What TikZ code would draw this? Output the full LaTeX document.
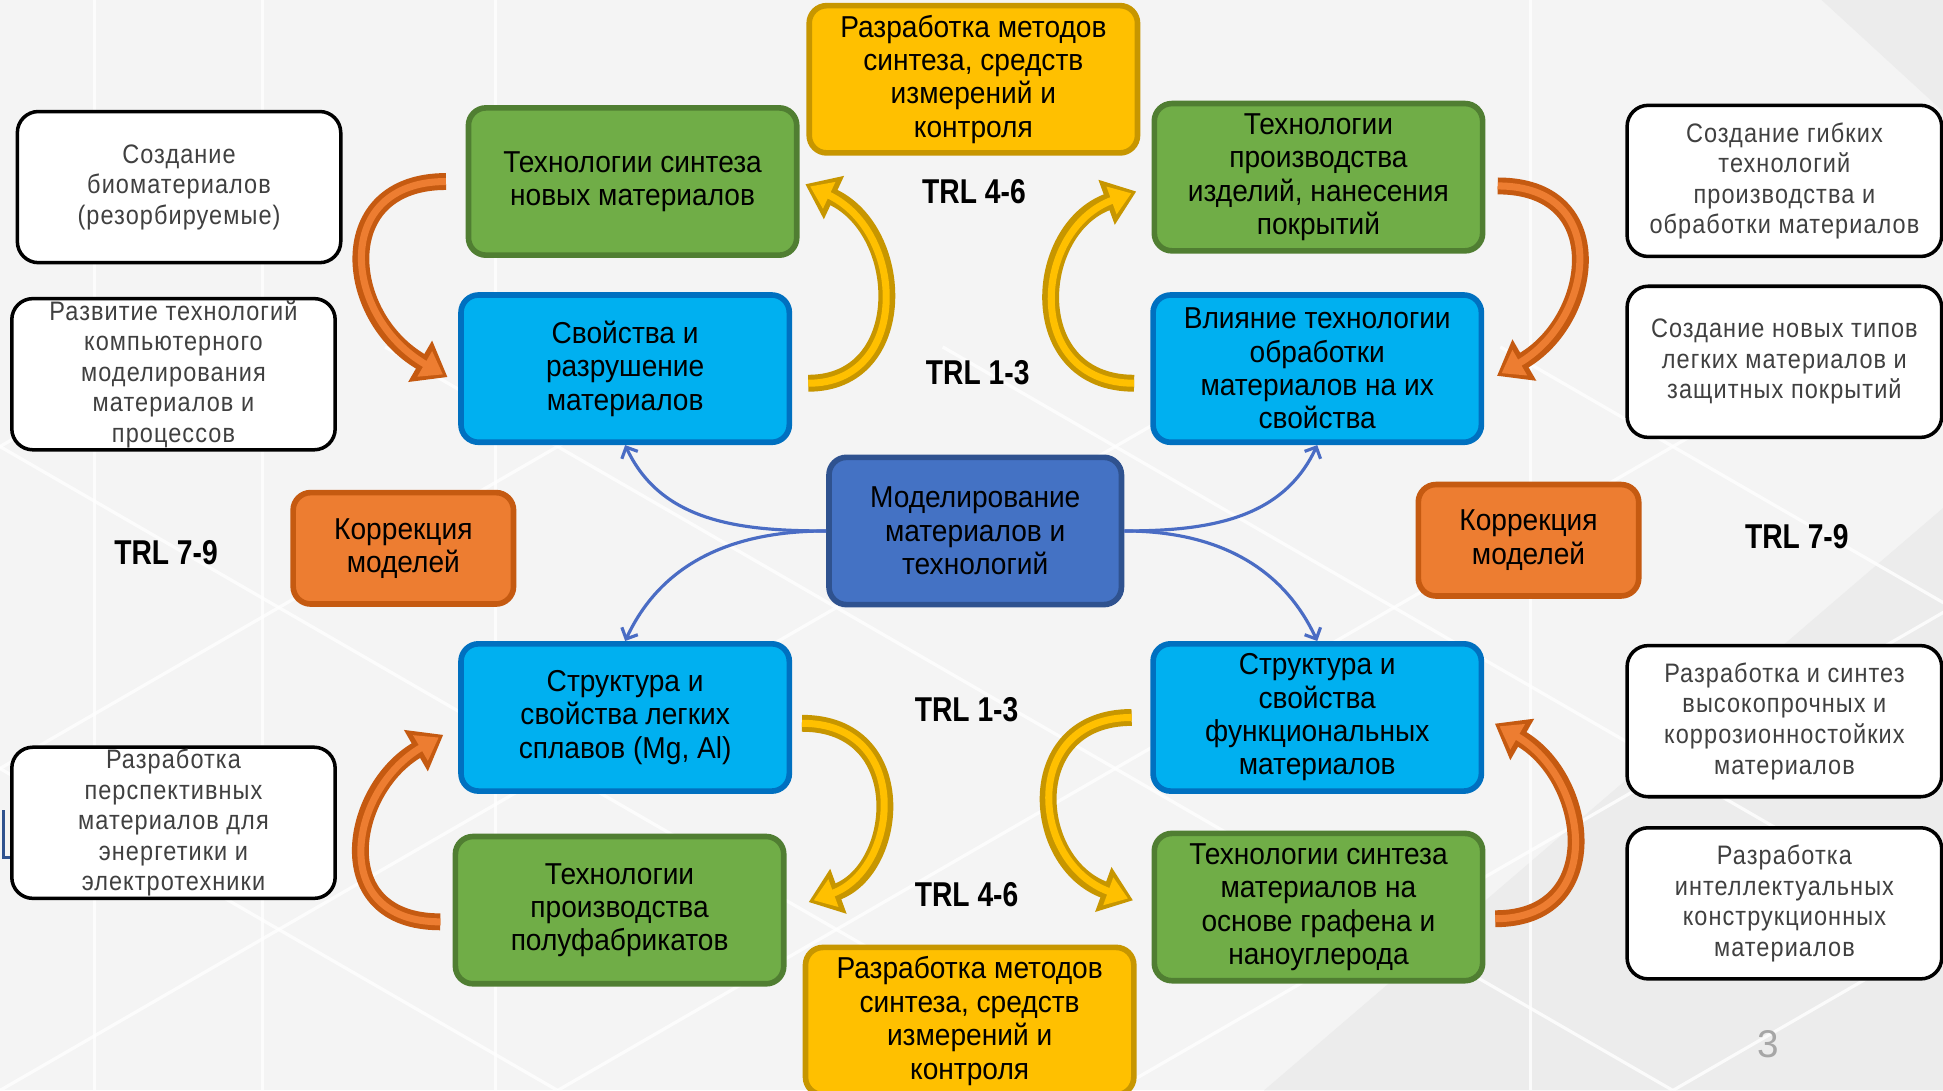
\documentclass[tikz,border=0pt]{standalone}
\usepackage{fontspec}
\setmainfont{Liberation Sans}
\newfontfamily\boxfont{Liberation Sans}[FakeStretch=0.93]
\newfontfamily\notefont{Liberation Sans}[FakeStretch=0.88,LetterSpace=4]
\newfontfamily\trlfont{Liberation Sans}[FakeStretch=0.82]
\usetikzlibrary{arrows.meta}
\definecolor{grn}{HTML}{70AD47}
\definecolor{grnD}{HTML}{507E32}
\definecolor{blu}{HTML}{00B0F0}
\definecolor{bluD}{HTML}{0070C0}
\definecolor{ylw}{HTML}{FFC000}
\definecolor{ylwD}{HTML}{C79600}
\definecolor{org}{HTML}{ED7D31}
\definecolor{orgD}{HTML}{C55A11}
\definecolor{mdl}{HTML}{4472C4}
\definecolor{mdlD}{HTML}{2F528F}
\definecolor{lnk}{HTML}{4A6CC4}
\definecolor{bg}{HTML}{F4F4F4}
\definecolor{bgD}{HTML}{ECECEC}

\begin{document}
\begin{tikzpicture}[x=0.01239cm, y=0.01239cm,
    box/.style={rounded corners=5pt, line width=1.6pt, minimum width=93.4pt, minimum height=41.9pt,
        inner sep=1pt, align=center, font=\boxfont\fontsize{8.6}{9.5}\selectfont},
    greenbox/.style={box, fill=grn, draw=grnD},
    bluebox/.style={box, fill=blu, draw=bluD},
    yellowbox/.style={box, fill=ylw, draw=ylwD},
    modelbox/.style={box, fill=mdl, draw=mdlD, minimum width=83.2pt},
    corrbox/.style={box, fill=org, draw=orgD, minimum width=62.7pt, minimum height=31.7pt},
    note/.style={draw=black, line width=1pt, fill=white, rounded corners=6pt, minimum width=92pt,
        minimum height=43pt, inner sep=0.5pt, align=center, text=black!75,
        font=\notefont\fontsize{7.6}{8.7}\selectfont},
    trl/.style={font=\trlfont\bfseries\fontsize{9.8}{11}\selectfont},
    link/.style={draw=lnk, line width=0.9pt, -{Straight Barb[length=2.5pt,width=5pt]}},
    oarr/.style={draw=org, line width=2pt, -{Triangle[length=6pt,width=8pt,sep=1.5pt]},
        preaction={draw=orgD, line width=4.8pt, -{Triangle[length=9pt,width=13pt]}}},
    yarr/.style={draw=ylw, line width=2pt, -{Triangle[length=6pt,width=8pt,sep=1.5pt]},
        preaction={draw=ylwD, line width=4.8pt, -{Triangle[length=9pt,width=13pt]}}},
    bgline/.style={draw=white, line width=0.9pt, opacity=0.8}]

    \useasboundingbox (0,0) rectangle (1568,880);
    \clip (0,0) rectangle (1568,880);
    \fill[bg] (0,0) rectangle (1568,880);
    \fill[bgD] (1568,0) -- (1020,0) -- (1568,470) -- cycle;
    \fill[bgD] (1568,880) -- (1470,880) -- (1568,790) -- cycle;
    \foreach \x in {-900,-450,0,450,900,1350} {
        \draw[bgline] (\x,0) -- ++(30:1200);
        \draw[bgline] (\x+900,0) -- ++(150:1200);
    }
    \foreach \x in {76,212,400,1235} {
        \draw[bgline] (\x,0) -- (\x,880);
    }
    \draw[draw=mdlD, line width=1pt] (3,226) -- (3,188) -- (14,188);

    \node[yellowbox] (ytop) at (785.5,816) {Разработка методов\\синтеза, средств\\измерений и\\контроля};
    \node[greenbox] (synth) at (510.5,733.5) {Технологии синтеза\\новых материалов};
    \node[greenbox] (prod) at (1064,737) {Технологии\\производства\\изделий, нанесения\\покрытий};
    \node[bluebox] (props) at (504.5,582.5) {Свойства и\\разрушение\\материалов};
    \node[bluebox] (infl) at (1063,582.5) {Влияние технологии\\обработки\\материалов на их\\свойства};
    \node[modelbox] (model) at (787,451.5) {Моделирование\\материалов и\\технологий};
    \node[corrbox] (corrl) at (325.5,437.5) {Коррекция\\моделей};
    \node[corrbox] (corrr) at (1233.5,444) {Коррекция\\моделей};
    \node[bluebox] (alloy) at (504.5,301) {Структура и\\свойства легких\\сплавов (Mg, Al)};
    \node[bluebox] (func) at (1063,301) {Структура и\\свойства\\функциональных\\материалов};
    \node[greenbox] (semi) at (500,145.5) {Технологии\\производства\\полуфабрикатов};
    \node[greenbox] (graph) at (1064,148) {Технологии синтеза\\материалов на\\основе графена и\\наноуглерода};
    \node[yellowbox] (ybot) at (782.5,56) {Разработка методов\\синтеза, средств\\измерений и\\контроля};

    \node[note] (bio) at (144.5,729) {Создание\\биоматериалов\\(резорбируемые)};
    \node[note] (comp) at (140,578) {Развитие технологий\\компьютерного\\моделирования\\материалов и\\процессов};
    \node[note] (energy) at (140,216) {Разработка\\перспективных\\материалов для\\энергетики и\\электротехники};
    \node[note, minimum width=89.5pt] (flex) at (1440,734) {Создание гибких\\технологий\\производства и\\обработки материалов};
    \node[note, minimum width=89.5pt] (light) at (1440,588) {Создание новых типов\\легких материалов и\\защитных покрытий};
    \node[note, minimum width=89.5pt] (strong) at (1440,298) {Разработка и синтез\\высокопрочных и\\коррозионностойких\\материалов};
    \node[note, minimum width=89.5pt] (smart) at (1440,151) {Разработка\\интеллектуальных\\конструкционных\\материалов};

    \node[trl] (t1) at (786,725) {TRL 4-6};
    \node[trl] (t2) at (789,579) {TRL 1-3};
    \node[trl] (t3) at (134,434) {TRL 7-9};
    \node[trl] (t4) at (1450,447) {TRL 7-9};
    \node[trl] (t5) at (780,307) {TRL 1-3};
    \node[trl] (t6) at (780,158) {TRL 4-6};
    \node[text=gray!70, font=\fontsize{11}{13}\selectfont] (page) at (1427,37) {3};

    \draw[oarr, shorten <=5.6pt, shorten >=3.5pt] (synth.west) to[out=180, in=150, looseness=1.7] (props.185);
    \draw[yarr, shorten <=4.6pt, shorten >=1.8pt] (props.-5) to[out=0, in=-25, looseness=1.5] (synth.east);
    \draw[yarr, shorten <=4.6pt, shorten >=4.6pt] (infl.185) to[out=180, in=200, looseness=1.65] (prod.183);
    \draw[oarr, shorten <=3.5pt, shorten >=4.2pt] (prod.-3) to[out=0, in=30, looseness=1.65] (infl.-5);
    \draw[oarr, shorten <=3.5pt, shorten >=4.9pt] (semi.184) to[out=180, in=210, looseness=1.65] (alloy.183);
    \draw[yarr, shorten <=2.8pt, shorten >=6.7pt] (alloy.-2) to[out=0, in=20, looseness=1.65] (semi.east);
    \draw[yarr, shorten <=5.3pt, shorten >=5.6pt] (func.west) to[out=180, in=160, looseness=1.75] (graph.west);
    \draw[oarr, shorten <=2.8pt, shorten >=3.5pt] (graph.-4) to[out=0, in=-30, looseness=1.55] (func.east);

    \draw[link] (model.west) to[out=180, in=-65] (props.south);
    \draw[link] (model.west) to[out=180, in=65] (alloy.north);
    \draw[link] (model.east) to[out=0, in=-115] (infl.south);
    \draw[link] (model.east) to[out=0, in=115] (func.north);
\end{tikzpicture}
\end{document}
